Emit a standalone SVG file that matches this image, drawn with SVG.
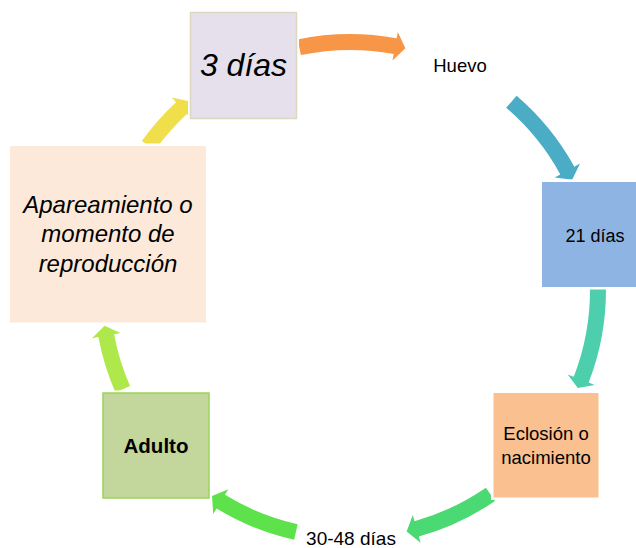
<svg xmlns="http://www.w3.org/2000/svg" width="636" height="548" viewBox="0 0 636 548">
  <style>
    text { font-family: "Liberation Sans", Arial, sans-serif; fill: #000; text-anchor: middle; }
    .halo { fill: #fff; stroke: #fff; stroke-width: 5; }
    .t18 { font-size: 18.5px; }
    .it { font-style: italic; }
  </style>
  <rect width="636" height="548" fill="#fff"/>
  <g id="connectors">
    <path fill="#f79646" d="M297.65,39.41 A256,256 0 0 1 396.65,38.29 L397.84,31.90 L405.37,48.26 L392.55,60.41 L393.74,54.02 A240,240 0 0 0 300.92,55.07 Z"/>
    <path fill="#4bacc6" d="M516.60,95.63 A256,256 0 0 1 574.34,166.67 L580.03,163.54 L572.14,179.73 L554.62,177.51 L560.31,174.38 A240,240 0 0 0 506.18,107.78 Z"/>
    <path fill="#4dcfae" d="M606.00,288.21 A256,256 0 0 1 588.67,382.57 L594.73,384.93 L577.78,388.10 L567.70,374.44 L573.76,376.79 A240,240 0 0 0 590.00,288.32 Z"/>
    <path fill="#4ad972" d="M495.00,500.98 A256,256 0 0 1 418.84,536.57 L420.59,542.83 L406.63,531.45 L412.79,514.90 L414.54,521.16 A240,240 0 0 0 485.94,487.79 Z"/>
    <path fill="#5de24c" d="M294.16,539.84 A256,256 0 0 1 216.62,508.51 L213.23,514.06 L212.04,496.08 L228.34,489.30 L224.96,494.85 A240,240 0 0 0 297.65,524.22 Z"/>
    <path fill="#aee84a" d="M115.41,392.49 A256,256 0 0 1 98.37,337.09 L91.98,338.29 L104.60,325.80 L120.48,332.95 L114.09,334.15 A240,240 0 0 0 130.07,386.08 Z"/>
    <path fill="#f0df4a" d="M141.85,140.98 A256,256 0 0 1 176.06,102.17 L171.65,97.40 L189.27,101.14 L191.35,118.67 L186.93,113.90 A240,240 0 0 0 154.86,150.29 Z"/>
  </g>
  <g id="node-3dias">
    <rect class="halo" x="190.5" y="12.5" width="106" height="106"/>
    <rect x="190.5" y="12.5" width="106" height="106" fill="#e5e0ec" stroke="#dcd8c0" stroke-width="1.5"/>
    <text class="it" x="243.5" y="76" font-size="32">3 días</text>
  </g>
  <g id="node-huevo">
    <text class="t18" x="460" y="72">Huevo</text>
  </g>
  <g id="node-21dias">
    <rect class="halo" x="542" y="182" width="106" height="105"/>
    <rect x="542" y="182" width="106" height="105" fill="#8eb4e3"/>
    <text x="595" y="242" font-size="18">21 días</text>
  </g>
  <g id="node-eclosion">
    <rect class="halo" x="493.5" y="393" width="105" height="104.5"/>
    <rect x="493.5" y="393" width="105" height="104.5" fill="#fac090"/>
    <text class="t18" x="546" y="440">Eclosión o</text>
    <text class="t18" x="546" y="463.5">nacimiento</text>
  </g>
  <g id="node-3048dias">
    <text x="351" y="545" font-size="19">30-48 días</text>
  </g>
  <g id="node-adulto">
    <rect class="halo" x="103" y="393" width="106" height="105"/>
    <rect x="103" y="393" width="106" height="105" fill="#c3d69b" stroke="#9bd45a" stroke-width="1.5"/>
    <text x="156" y="453" font-size="20.5" font-weight="bold">Adulto</text>
  </g>
  <g id="node-apareamiento">
    <rect class="halo" x="10" y="146" width="196" height="176.5"/>
    <rect x="10" y="146" width="196" height="176.5" fill="#fde9d9"/>
    <text class="it" x="108" y="212.5" font-size="24">Apareamiento o</text>
    <text class="it" x="108" y="242" font-size="24">momento de</text>
    <text class="it" x="108" y="271.5" font-size="24">reproducción</text>
  </g>
</svg>
